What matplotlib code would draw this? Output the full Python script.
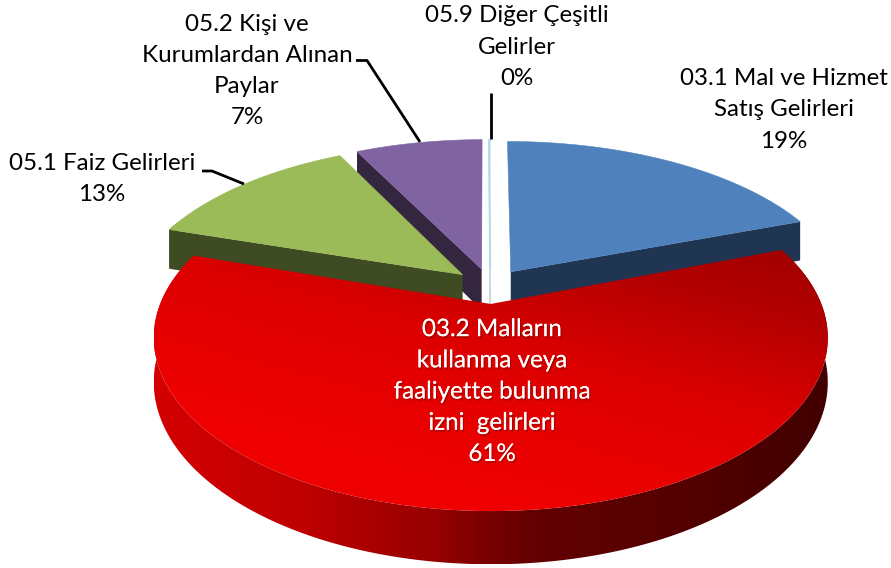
import numpy as np
import matplotlib
matplotlib.use('Agg')
import matplotlib.pyplot as plt
import matplotlib.patheffects as pe
from matplotlib.colors import LinearSegmentedColormap
from matplotlib.patches import Polygon

plt.rcParams['font.family'] = ['Lato', 'DejaVu Sans']

# dilim verileri (saat yönünde, tepeden başlayarak)
names = ['03.1 Mal ve Hizmet\nSatış Gelirleri',
         '03.2 Malların\nkullanma veya\nfaaliyette bulunma\nizni  gelirleri',
         '05.1 Faiz Gelirleri',
         '05.2 Kişi ve\nKurumlardan Alınan\nPaylar',
         '05.9 Diğer Çeşitli\nGelirler']
values = [19.4, 60.6, 12.6, 7.4, 0.05]
colors = ['#4F81BD', '#E00000', '#9BBB59', '#8064A2', '#A8DCE8']
side_colors = ['#1F3552', '#8F0000', '#3F4B22', '#35263F', '#C4D6DE']
x_scale = [1.01, 0.975, 1.0, 1.0, 1.0]
label_x = [784, 492, 102, 247, 517]
label_y = [110, 392, 179, 71, 47]
leaders = [None, None,
           ([202, 212, 244], [171, 171, 184]),
           ([356, 367, 420], [60.5, 60.5, 142]),
           ([491, 491], [93, 139])]

# perspektif ayarları
CX, CY = 490, 286
A, B, D = 332, 160, 42
K = 0.19
EXPLODE = 0.11

WALL_STOPS = [(0, '#D40000'), (0.22, '#BE0000'), (0.42, '#950000'),
              (0.55, '#640000'), (0.75, '#560000'), (1, '#420000')]
TOP_STOPS = [(0, '#F20000'), (0.26, '#EE0000'), (0.58, '#DD0000'),
             (0.75, '#C00000'), (0.82, '#B40000'), (1, '#A00000')]


def project(x, y, z=0.0, sx=1.0):
    """Pasta düzlemindeki noktayı piksele çevirir (y arkaya doğru)"""
    w = 1 + K * y
    return CX + sx * A * x / w, CY - (B * y + D * z) / w


def slice_outline(a0, a1, z=0.0, sx=1.0):
    """Patlatılmış dilimin yay noktaları ve tepe noktası"""
    mid = (a0 + a1) / 2
    ox, oy = EXPLODE * np.sin(mid), EXPLODE * np.cos(mid)
    t = np.linspace(a0, a1, 160)
    arc = project(ox + np.sin(t), oy + np.cos(t), z, sx)
    apex = project(ox, oy, z, sx)
    return np.array(arc).T, np.array(apex)


def gradient(ax, poly, stops, z, angle=0.0):
    """Poligonu renk geçişi ile doldurur"""
    xs, ys = np.meshgrid(np.linspace(0, 1, 300), np.linspace(0, 1, 300))
    img = xs * np.cos(angle) + (1 - ys) * np.sin(angle)
    cmap = LinearSegmentedColormap.from_list('g', stops)
    x0, y0 = poly.min(axis=0)
    x1, y1 = poly.max(axis=0)
    im = ax.imshow(img, extent=(x0, x1, y1, y0), cmap=cmap, aspect='auto',
                   interpolation='bilinear', zorder=z)
    patch = Polygon(poly, closed=True, transform=ax.transData, fc='none', ec='none')
    ax.add_patch(patch)
    im.set_clip_path(patch)


fig = plt.figure(figsize=(8.91, 5.68), dpi=100)
ax = fig.add_axes([0, 0, 1, 1])
ax.axis('off')

total = sum(values)
edges = np.cumsum([0] + values) / total * 2 * np.pi

# arkadan öne çizim sırası
z = 1
for i in [4, 0, 3, 2, 1]:
    a0, a1 = edges[i], edges[i + 1]
    top, apex = slice_outline(a0, a1, 0.0, x_scale[i])
    low, apex_low = slice_outline(a0, a1, -1.0, x_scale[i])
    z += 2
    if i == 1:
        wall = np.vstack([top, low[::-1]])
        gradient(ax, wall, WALL_STOPS, z)
        face = np.vstack([top, apex])
        gradient(ax, face, TOP_STOPS, z + 1, angle=0.98)
        continue
    # kesim yüzü
    if i == 0:
        cut = np.array([apex, top[-1], low[-1], apex_low])
    else:
        cut = np.array([apex, top[0], low[0], apex_low])
    ax.add_patch(Polygon(cut, closed=True, fc=side_colors[i],
                         ec=side_colors[i] if i == 4 else 'none', lw=0.8, zorder=z))
    if i == 2:
        wall = np.vstack([top[:12], low[:12][::-1]])
        ax.add_patch(Polygon(wall, closed=True, fc=side_colors[i], ec='none', zorder=z))
    ax.add_patch(Polygon(np.vstack([top, apex]), closed=True, fc=colors[i],
                         ec=colors[i], lw=0.8 if i == 4 else 0.4, zorder=z + 0.5))

for i, name in enumerate(names):
    text = '{}\n{:.0f}%'.format(name, values[i])
    t = ax.text(label_x[i], label_y[i], text, ha='center', va='center', fontsize=17.4,
                linespacing=1.6, color='white' if i == 1 else 'black', zorder=50)
    if i == 1:
        t.set_path_effects([pe.withSimplePatchShadow(offset=(1, -1.5), shadow_rgbFace='#500000', alpha=0.35),
                            pe.Normal()])
    if leaders[i]:
        ax.plot(leaders[i][0], leaders[i][1], color='black', lw=2, zorder=40,
                solid_capstyle='butt')

ax.set_xlim(0, 891)
ax.set_ylim(568, 0)
fig.savefig('out.png', dpi=100, facecolor='white')
